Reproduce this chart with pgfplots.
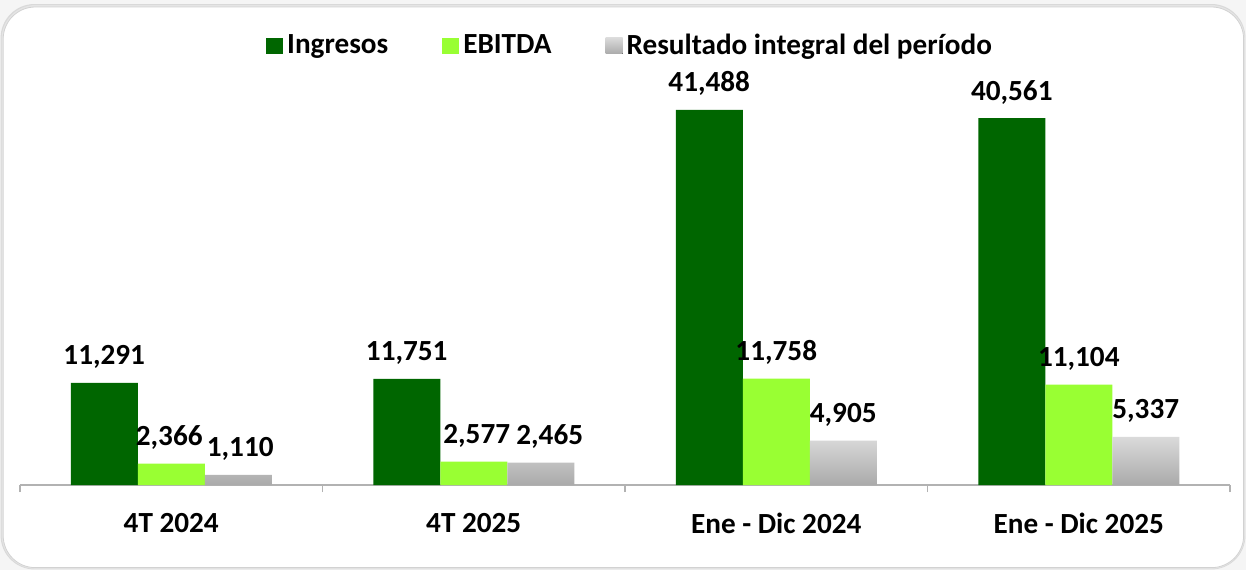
\documentclass[border=0pt]{standalone}
\usepackage{pgfplots}
\usepackage{pgfplotstable}
\pgfplotsset{compat=1.18}
\usepackage{fontspec}
\setmainfont{Carlito}
\definecolor{dgreen}{RGB}{0,102,0}
\definecolor{lgreen}{RGB}{153,255,51}
\definecolor{gtop}{RGB}{218,218,218}
\definecolor{gbot}{RGB}{170,170,170}
\newcommand{\lblfont}{\fontsize{14.6}{17}\selectfont\bfseries}
\pgfplotstableread{
x y dx
0 11291 0
1 11751 0
2 41488 0
3 40561 0
}\ingresos
\pgfplotstableread{
x y dx
0 2366 -1
1 2577 1.5
2 11758 0
3 11104 0
}\ebitda
\pgfplotstableread{
x y dx
0 1110 1
1 2465 4.5
2 4905 0
3 5337 0
}\resultado
\begin{document}
\begin{tikzpicture}
\fill[gray!8] (0pt,0pt) rectangle (623pt,285pt);
\fill[gray!30, rounded corners=17pt] (0.3pt,0.3pt) rectangle (622.7pt,283pt);
\fill[gray!20, rounded corners=17pt] (0.8pt,0.6pt) rectangle (622.4pt,282.5pt);
\filldraw[fill=white, draw=gray!35, line width=0.4pt, rounded corners=16pt] (1.6pt,1.2pt) rectangle (621.8pt,281.5pt);
\begin{axis}[
  at={(10pt,42.5pt)}, anchor=south west,
  scale only axis,
  width=605pt, height=212.5pt,
  ybar=0pt, bar width=33.5pt,
  xmin=-0.5, xmax=3.5,
  ymin=0, ymax=47000,
  axis x line*=bottom,
  hide y axis,
  axis line style={gray!60, line width=0.6pt},
  xtick={0,1,2,3},
  xticklabels={4T 2024, 4T 2025, Ene - Dic 2024, Ene - Dic 2025},
  major tick length=0pt,
  minor xtick={-0.5,0.5,1.5,2.5,3.5},
  minor tick length=3.5pt,
  tick align=outside,
  minor tick style={gray!60, line width=0.6pt},
  xticklabel style={font=\lblfont, anchor=center, yshift=-19pt},
  visualization depends on={\thisrow{dx} \as \dx},
  nodes near coords={\pgfmathprintnumber[fixed,precision=0,1000 sep={,},assume math mode=true]{\pgfplotspointmeta}},
  every node near coord/.append style={font=\lblfont, anchor=center, yshift=13pt, xshift=\dx pt, text=black},
  legend columns=-1,
  legend style={draw=none, fill=none, at={(0.505,1.033)}, anchor=center,
    font=\lblfont,
    /tikz/every even column/.append style={column sep=25pt},
    inner sep=0pt},
  legend image code/.code={\fill[#1] (0pt,-4pt) rectangle (8.5pt,4pt);},
  clip=false,
]
\addplot[fill=dgreen, draw=none] table[x=x, y=y] {\ingresos};
\addplot[fill=lgreen, draw=none] table[x=x, y=y] {\ebitda};
\addplot[top color=gtop, bottom color=gbot, draw=none] table[x=x, y=y] {\resultado};
\legend{Ingresos, EBITDA, Resultado integral del período}
\end{axis}
\end{tikzpicture}
\end{document}
